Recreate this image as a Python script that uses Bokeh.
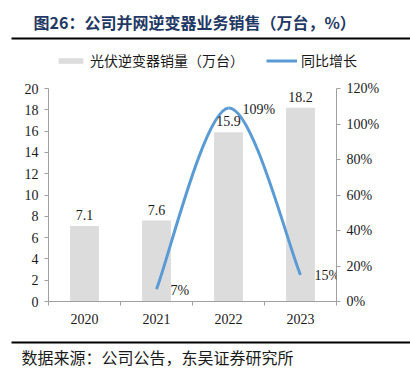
from bokeh.plotting import figure
from bokeh.layouts import column
from bokeh.models import (Range1d, LinearAxis, FixedTicker, PrintfTickFormatter, ColumnDataSource,
                          LabelSet, Legend, LegendItem)
from bokeh.core.properties import value
from bokeh.embed import file_html
from bokeh.resources import INLINE

years = ["2020", "2021", "2022", "2023"]
sales = [7.1, 7.6, 15.9, 18.2]
sales_labels = ["7.1", "7.6", "15.9", "18.2"]
growth_years = ["2021", "2022", "2023"]
growth = [7, 109, 15]
growth_labels = ["7%", "109%", "15%"]
left_ticks = [0, 2, 4, 6, 8, 10, 12, 14, 16, 18, 20]
right_ticks = [0, 20, 40, 60, 80, 100, 120]

title_text = "图26：公司并网逆变器业务销售（万台，%）"
source_text = "数据来源：公司公告，东吴证券研究所"
bar_name = "光伏逆变器销量（万台）"
line_name = "同比增长"

SERIF = "Liberation Serif"
CJK = "Noto Sans CJK SC"
BAR_COLOR = "#DCDCDC"
LINE_COLOR = "#5B9BD5"
AXIS_COLOR = "#A0A0A0"
TEXT_COLOR = "#1a1a1a"
W = 410


def blank_fig(h):
    f = figure(width=W, height=h, output_backend="svg", toolbar_location=None,
               x_range=Range1d(0, W), y_range=Range1d(h, 0),
               x_axis_type=None, y_axis_type=None, frame_align=False,
               min_border=0, min_border_left=0, min_border_right=0,
               min_border_top=0, min_border_bottom=0)
    f.outline_line_color = None
    f.xgrid.visible = False
    f.ygrid.visible = False
    return f


# ---------- header: title, rule, legend ----------
HH = 80
head = blank_fig(HH)
head.text(x=[33], y=[21], text=[title_text], text_font=value(CJK), text_font_size="16px",
          text_font_style="bold", text_color="#1F3864", text_baseline="middle", text_align="left")
head.segment(x0=[11], y0=[38], x1=[W], y1=[38], line_color="black", line_width=2)
# legend proxies (kept outside the visible area; only their swatches are shown in the legend)
hb = head.vbar(x=[-100], top=[-100], bottom=[-110], width=1, fill_color=BAR_COLOR, line_color=None)
hl = head.line(x=[-100, -90], y=[-100, -100], line_color=LINE_COLOR, line_width=3)
legend = Legend(items=[LegendItem(label=bar_name, renderers=[hb]),
                       LegendItem(label=line_name, renderers=[hl])],
                orientation="horizontal", location=(55, HH - 70), padding=0, spacing=22,
                glyph_width=31, glyph_height=7, label_standoff=4, label_height=20,
                label_text_font=CJK, label_text_font_size="14px", label_text_color=TEXT_COLOR,
                border_line_color=None, background_fill_alpha=0)
head.add_layout(legend)

# ---------- main chart ----------
xpos = list(range(len(years)))
gx = [years.index(y) for y in growth_years]

p = figure(width=W, height=255, output_backend="svg", toolbar_location=None,
           x_range=Range1d(-0.5, len(years) - 0.5), y_range=Range1d(0, 20), frame_align=False,
           min_border_left=48, min_border_right=74, min_border_top=8, min_border_bottom=34)
p.outline_line_color = None
p.xgrid.visible = False
p.ygrid.visible = False
p.extra_y_ranges = {"pct": Range1d(0, 120)}

bsrc = ColumnDataSource(dict(x=xpos, top=sales, lab=sales_labels))
p.vbar(x="x", top="top", width=0.4, source=bsrc, fill_color=BAR_COLOR, line_color=None)
p.add_layout(LabelSet(x="x", y="top", text="lab", source=bsrc, text_align="center",
                      text_baseline="bottom", y_offset=6, text_font=value(SERIF),
                      text_font_size="14px", text_color=TEXT_COLOR))

# smoothed growth line (Catmull-Rom bezier through the data points)
pts = list(zip(gx, growth))
x0s, y0s, x1s, y1s, cx0, cy0, cx1, cy1 = [], [], [], [], [], [], [], []
for i in range(len(pts) - 1):
    pa = pts[i - 1] if i > 0 else pts[i]
    pb = pts[i]
    pc = pts[i + 1]
    pd = pts[i + 2] if i + 2 < len(pts) else pts[i + 1]
    x0s.append(pb[0]); y0s.append(pb[1]); x1s.append(pc[0]); y1s.append(pc[1])
    cx0.append(pb[0] + (pc[0] - pa[0]) / 6); cy0.append(pb[1] + (pc[1] - pa[1]) / 6)
    cx1.append(pc[0] - (pd[0] - pb[0]) / 6); cy1.append(pc[1] - (pd[1] - pb[1]) / 6)
p.bezier(x0=x0s, y0=y0s, x1=x1s, y1=y1s, cx0=cx0, cy0=cy0, cx1=cx1, cy1=cy1,
         line_color=LINE_COLOR, line_width=3, y_range_name="pct")
lsrc = ColumnDataSource(dict(x=gx, y=growth, lab=growth_labels))
p.add_layout(LabelSet(x="x", y="y", text="lab", source=lsrc, y_range_name="pct",
                      text_align="left", text_baseline="middle", x_offset=14, y_offset=-1,
                      text_font=value(SERIF), text_font_size="14px", text_color=TEXT_COLOR))


def style_axis(ax):
    ax.axis_line_color = AXIS_COLOR
    ax.major_tick_line_color = AXIS_COLOR
    ax.minor_tick_line_color = None
    ax.major_tick_in = 0
    ax.major_tick_out = 4
    ax.major_label_text_font = SERIF
    ax.major_label_text_font_size = "14px"
    ax.major_label_text_color = TEXT_COLOR
    ax.major_label_standoff = 6


ya = p.yaxis[0]
ya.ticker = FixedTicker(ticks=left_ticks)
style_axis(ya)

ra = LinearAxis(y_range_name="pct", ticker=FixedTicker(ticks=right_ticks),
                formatter=PrintfTickFormatter(format="%d%%"))
style_axis(ra)
p.add_layout(ra, "right")

xa = p.xaxis[0]
xa.ticker = FixedTicker(ticks=xpos, minor_ticks=[i - 0.5 for i in range(len(years) + 1)])
xa.major_label_overrides = {i: y for i, y in enumerate(years)}
style_axis(xa)
xa.major_tick_line_color = None
xa.minor_tick_line_color = AXIS_COLOR
xa.minor_tick_in = 0
xa.minor_tick_out = 4
xa.major_label_standoff = 8

# ---------- footer ----------
FH = 377 - HH - 255
foot = blank_fig(FH)
foot.segment(x0=[11], y0=[7], x1=[W], y1=[7], line_color="black", line_width=2)
foot.text(x=[21], y=[21], text=[source_text], text_font=value(CJK), text_font_size="16px",
          text_color=TEXT_COLOR, text_baseline="middle", text_align="left")

layout = column(head, p, foot, spacing=0)
open("out.html", "w").write(file_html(layout, INLINE))
